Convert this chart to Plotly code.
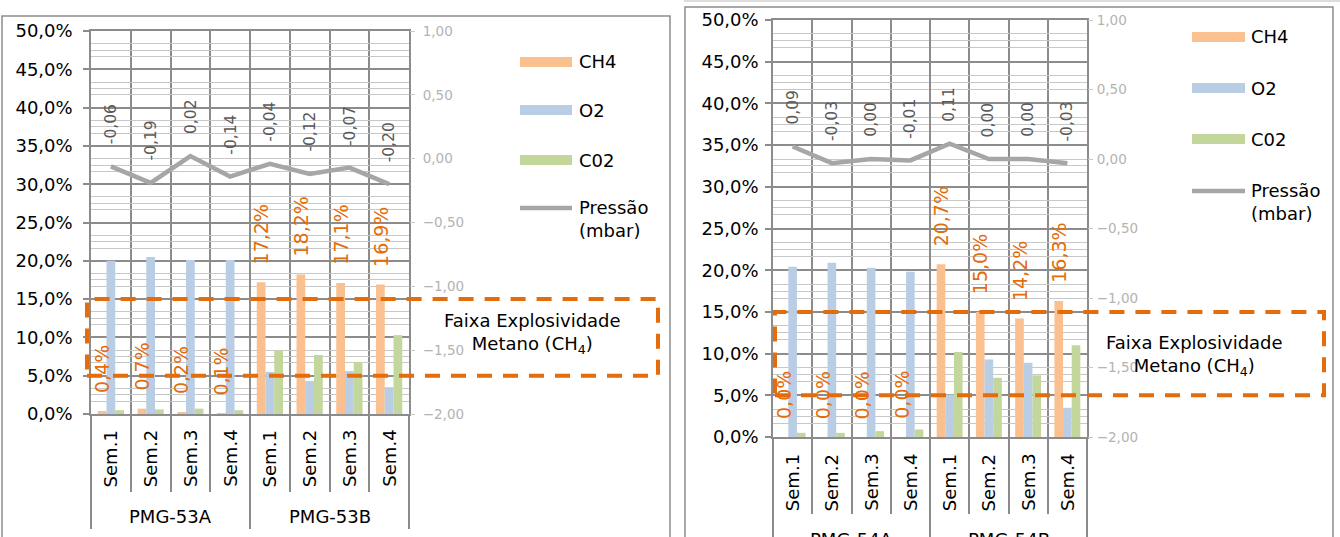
import plotly.graph_objects as go

W, H = 1340, 537

# ---------------- data ----------------
weeks = ["Sem.1", "Sem.2", "Sem.3", "Sem.4"]
groups_53 = ["PMG-53A", "PMG-53B"]
groups_54 = ["PMG-54A", "PMG-54B"]
series_names = ["CH4", "O2", "C02"]
pressure_name = "Pressão<br>(mbar)"
band_text = "Faixa Explosividade<br>Metano (CH<sub>4</sub>)"

ch4_53 = [0.4, 0.7, 0.2, 0.1, 17.2, 18.2, 17.1, 16.9]
o2_53 = [20.0, 20.5, 20.1, 20.1, 5.5, 4.3, 5.6, 3.5]
co2_53 = [0.5, 0.6, 0.7, 0.5, 8.3, 7.7, 6.8, 10.3]
p_53 = [-0.06, -0.19, 0.02, -0.14, -0.04, -0.12, -0.07, -0.20]

ch4_54 = [0.0, 0.0, 0.0, 0.0, 20.7, 15.0, 14.2, 16.3]
o2_54 = [20.4, 20.9, 20.3, 19.8, 5.1, 9.3, 8.9, 3.5]
co2_54 = [0.5, 0.5, 0.7, 0.9, 10.2, 7.1, 7.4, 11.0]
p_54 = [0.09, -0.03, 0.00, -0.01, 0.11, 0.00, 0.00, -0.03]

lel, uel = 5.0, 15.0          # explosive range of methane (%)
prim_range = [0, 50]
sec_range = [-2, 1]

# ---------------- style ----------------
FONT = "DejaVu Sans"
BAR_COLORS = ["#FAC090", "#B9CDE5", "#C3D69B"]
LINE_COLOR = "#A6A6A6"
ORANGE = "#E46C0A"
GRID_D = "#8C8C8C"
GRID_L = "#C8C8C8"
SEC_TXT = "#B3B3B3"
BARGAP = 0.34


def px(x):
    return x / W


def py(y):
    return 1 - y / H


def fmt(v, dec, suffix=""):
    return (f"{v:.{dec}f}").replace(".", ",") + suffix


def minor_grid(pmax, smin, smax, sstep=0.1, pstep=2.5, major=5.0):
    vals = set()
    for k in range(int(round(pmax / pstep)) + 1):
        vals.add(round(k * pstep, 4))
    ns = int(round((smax - smin) / sstep))
    for k in range(ns + 1):
        vals.add(round(k * sstep / (smax - smin) * pmax, 4))
    return sorted(v for v in vals if abs(v / major - round(v / major)) > 1e-6)


charts = [
    dict(groups=groups_53, ch4=ch4_53, o2=o2_53, co2=co2_53, p=p_53,
         plot=(91, 31, 409, 414), frame=(2, 16, 670, 560),
         leg_x=(520, 572, 577), leg_y=[62, 110, 160, 219],
         box_x=(87, 658), box_txt=(532, 333),
         sem_top=428, grp_y=516, sep=(76, 113),
         yl_standoff=7, yr_standoff=5,
         ax=("x", "y", "y2"), axk=("xaxis", "yaxis", "yaxis2")),
    dict(groups=groups_54, ch4=ch4_54, o2=o2_54, co2=co2_54, p=p_54,
         plot=(773, 20, 1087, 437), frame=(685, 7, 1333, 560),
         leg_x=(1192, 1245, 1249), leg_y=[37, 88, 139, 202],
         box_x=(775, 1324), box_txt=(1194, 355),
         sem_top=452, grp_y=539, sep=(75, 110),
         yl_standoff=3, yr_standoff=1,
         ax=("x2", "y3", "y4"), axk=("xaxis2", "yaxis3", "yaxis4")),
]

fig = go.Figure()
layout = dict(
    width=W, height=H, margin=dict(l=0, r=0, t=0, b=0, autoexpand=False),
    paper_bgcolor="white", plot_bgcolor="white",
    barmode="group", bargap=BARGAP, bargroupgap=0,
    separators=",.", showlegend=False,
    font=dict(family=FONT, size=18, color="black"),
)
shapes, annotations = [], []

n = len(weeks) * 2
idx = list(range(n))
bw = (1 - BARGAP) / 3

for c in charts:
    xa, ya, ya2 = c["ax"]
    xk, yk, yk2 = c["axk"]
    x0p, y0p, x1p, y1p = c["plot"]
    series = [c["ch4"], c["o2"], c["co2"]]
    for name, vals, col in zip(series_names, series, BAR_COLORS):
        fig.add_trace(go.Bar(x=idx, y=vals, name=name, marker=dict(color=col, line=dict(width=0)),
                             xaxis=xa, yaxis=ya, hoverinfo="skip"))
    fig.add_trace(go.Scatter(x=idx, y=c["p"], name=pressure_name, mode="lines",
                             line=dict(color=LINE_COLOR, width=4.5),
                             xaxis=xa, yaxis=ya2, hoverinfo="skip"))

    ng = len(c["groups"])
    gsize = len(weeks)
    major_x = [-0.5 + gsize * k for k in range(ng + 1)]
    minor_x = [i + 0.5 for i in range(n - 1) if (i + 1) % gsize != 0]

    layout[xk] = dict(
        domain=[px(x0p), px(x1p)], range=[-0.5, n - 0.5], anchor=ya,
        tickmode="array", tickvals=major_x, showticklabels=False,
        ticks="outside", ticklen=c["sep"][1], tickcolor=GRID_D, tickwidth=1.5,
        showgrid=True, gridcolor=GRID_D, gridwidth=1.5,
        minor=dict(tickmode="array", tickvals=minor_x, ticks="outside", ticklen=c["sep"][0],
                   tickcolor=GRID_D, tickwidth=1.5, showgrid=True, gridcolor=GRID_D, gridwidth=1.5),
        showline=True, linecolor=GRID_D, linewidth=1.5, mirror=True, zeroline=False, fixedrange=True,
    )
    layout[yk] = dict(
        domain=[py(y1p), py(y0p)], range=prim_range, anchor=xa,
        tick0=0, dtick=5, tickformat=".1f", ticksuffix="%",
        ticks="outside", ticklen=6, tickcolor=GRID_D, tickwidth=1.5,
        ticklabelstandoff=c["yl_standoff"],
        tickfont=dict(size=18, color="black", family=FONT),
        showgrid=True, gridcolor=GRID_D, gridwidth=1.5, zeroline=False,
        showline=True, linecolor=GRID_D, linewidth=1.5, mirror=True,
        minor=dict(tickmode="array", tickvals=minor_grid(prim_range[1], *sec_range),
                   showgrid=True, gridcolor=GRID_L, gridwidth=1.2, ticks=""),
        fixedrange=True,
    )
    layout[yk2] = dict(
        overlaying=ya, side="right", anchor=xa, range=sec_range,
        tick0=0, dtick=0.5, tickformat=".2f",
        ticks="outside", ticklen=5, tickcolor=GRID_L, tickwidth=1.2,
        ticklabelstandoff=c["yr_standoff"],
        tickfont=dict(size=13.5, color=SEC_TXT, family=FONT),
        showgrid=False, zeroline=False, showline=False, fixedrange=True,
    )

    # data labels: pressure
    for i, v in enumerate(c["p"]):
        annotations.append(dict(x=i, y=v, xref=xa, yref=ya2, text=fmt(v, 2), textangle=-90,
                                showarrow=False, xanchor="center", yanchor="bottom", yshift=20,
                                font=dict(size=15.5, color="#595959", family=FONT)))
    # data labels: CH4
    for i, v in enumerate(c["ch4"]):
        annotations.append(dict(x=i - bw, y=v, xref=xa, yref=ya, text=fmt(v, 1, "%"), textangle=-90,
                                showarrow=False, xanchor="center", yanchor="bottom", yshift=16,
                                font=dict(size=19, color=ORANGE, family=FONT)))
    # category labels
    for i in idx:
        annotations.append(dict(x=i, y=py(c["sem_top"]), xref=xa, yref="paper",
                                text=weeks[i % gsize], textangle=-90, showarrow=False,
                                xanchor="center", yanchor="top",
                                font=dict(size=18, color="black", family=FONT)))
    for g, gname in enumerate(c["groups"]):
        annotations.append(dict(x=g * gsize + (gsize - 1) / 2, y=py(c["grp_y"]), xref=xa, yref="paper",
                                text=gname, showarrow=False, xanchor="center", yanchor="middle",
                                font=dict(size=18, color="black", family=FONT)))

    # explosive band box
    bx0, bx1 = c["box_x"]
    shapes.append(dict(type="rect", xref="paper", yref=ya, x0=px(bx0), x1=px(bx1), y0=lel, y1=uel,
                       line=dict(color=ORANGE, width=4, dash="15px,11px"), fillcolor="rgba(0,0,0,0)",
                       layer="above"))
    annotations.append(dict(x=px(c["box_txt"][0]), y=py(c["box_txt"][1]), xref="paper", yref="paper",
                            text=band_text, showarrow=False, align="center",
                            xanchor="center", yanchor="middle",
                            font=dict(size=18, color="black", family=FONT)))

    # custom legend
    lx0, lx1, ltx = c["leg_x"]
    for k, (name, col) in enumerate(zip(series_names, BAR_COLORS)):
        yc = c["leg_y"][k]
        shapes.append(dict(type="rect", xref="paper", yref="paper", x0=px(lx0), x1=px(lx1),
                           y0=py(yc + 5), y1=py(yc - 5), fillcolor=col, line=dict(width=0)))
        annotations.append(dict(x=px(ltx), y=py(yc), xref="paper", yref="paper", text=name,
                                showarrow=False, xanchor="left", yanchor="middle",
                                font=dict(size=18, color="black", family=FONT)))
    yc = c["leg_y"][3]
    yline = yc - 11
    shapes.append(dict(type="line", xref="paper", yref="paper", x0=px(lx0), x1=px(lx1),
                       y0=py(yline), y1=py(yline), line=dict(color=LINE_COLOR, width=4.5)))
    annotations.append(dict(x=px(ltx), y=py(yc), xref="paper", yref="paper", text=pressure_name,
                            showarrow=False, xanchor="left", yanchor="middle", align="left",
                            font=dict(size=18, color="black", family=FONT)))

    # chart frame
    fx0, fy0, fx1, fy1 = c["frame"]
    shapes.append(dict(type="rect", xref="paper", yref="paper", x0=px(fx0), x1=px(fx1),
                       y0=py(fy1), y1=py(fy0), line=dict(color="#8C8C8C", width=1.5),
                       fillcolor="rgba(0,0,0,0)", layer="below"))

shapes.append(dict(type="line", xref="paper", yref="paper", x0=px(684), x1=1, y0=py(1), y1=py(1),
                   line=dict(color="#DDDDDD", width=2)))

layout["shapes"] = shapes
layout["annotations"] = annotations
fig.update_layout(**layout)

fig.write_html("out.html", config={"displayModeBar": False},
               post_script="document.body.style.margin='0';")
